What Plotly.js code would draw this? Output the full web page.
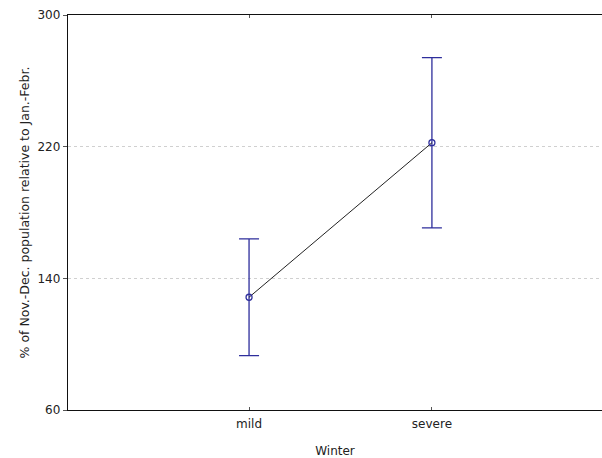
<!DOCTYPE html>
<html>
<head>
<meta charset="utf-8">
<script src="https://cdn.plot.ly/plotly-3.0.1.min.js"></script>
<style>html,body{margin:0;padding:0;background:#fff;}#chart{width:602px;height:458px;}</style>
</head>
<body>
<div id="chart"></div>
<script>
const categories = ["mild", "severe"];
const means = [128.5, 222.4];
const errors = [35.5, 51.7];
const yTicks = [60, 140, 220, 300];

const trace = {
  x: categories,
  y: means,
  type: "scatter",
  mode: "lines+markers",
  line: {color: "#222222", width: 1},
  marker: {symbol: "circle-open", size: 6, color: "#2e2e9c", line: {width: 1.3, color: "#2e2e9c"}},
  error_y: {type: "data", array: errors, visible: true, color: "#2e2e9c", thickness: 1.3, width: 10},
  hoverinfo: "skip"
};

const layout = {
  width: 602, height: 458,
  margin: {l: 68, r: 0, t: 15, b: 48},
  paper_bgcolor: "#ffffff",
  plot_bgcolor: "#ffffff",
  showlegend: false,
  font: {family: "DejaVu Sans, Liberation Sans, Arial, sans-serif", size: 12, color: "#222"},
  xaxis: {
    type: "category",
    range: [-0.99, 1.93],
    showgrid: false,
    zeroline: false,
    showline: true,
    linecolor: "#111",
    linewidth: 1.3,
    mirror: "ticks",
    ticks: "inside",
    ticklen: 3,
    tickcolor: "#555",
    ticklabelstandoff: 2,
    tickfont: {size: 12, color: "#222"},
    title: {text: "Winter", font: {size: 12, color: "#222"}, standoff: 17}
  },
  yaxis: {
    range: [60, 300],
    tickvals: yTicks,
    ticktext: yTicks.map(String),
    showgrid: true,
    gridcolor: "#d0d0d0",
    griddash: "3px,3px",
    gridwidth: 1,
    zeroline: false,
    showline: true,
    linecolor: "#111",
    linewidth: 1.3,
    ticks: "outside",
    ticklen: 4,
    tickcolor: "#555",
    tickfont: {size: 12, color: "#222"},
    title: {text: "% of Nov.-Dec. population relative to Jan.-Febr.", font: {size: 12.5, color: "#222"}, standoff: 5}
  }
};

Plotly.newPlot("chart", [trace], layout, {displayModeBar: false, staticPlot: true});
</script>
</body>
</html>
